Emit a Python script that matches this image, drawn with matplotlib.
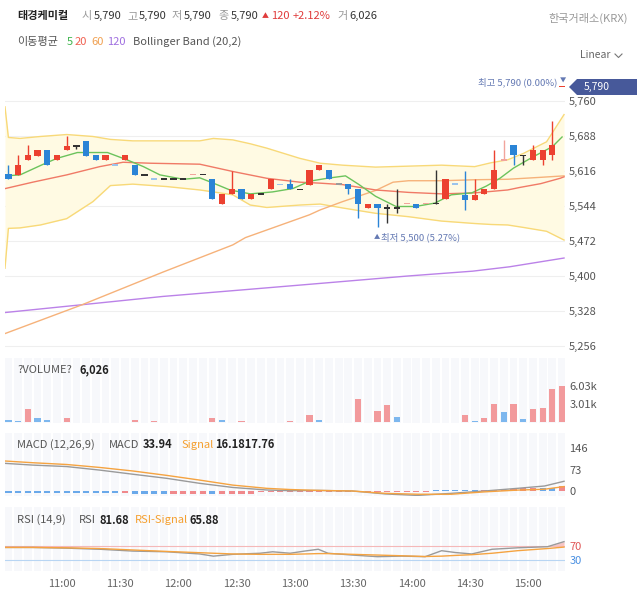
import numpy as np
import matplotlib
matplotlib.use('Agg')
import matplotlib.pyplot as plt
from matplotlib.patches import Polygon

plt.rcParams['font.family'] = ['Noto Sans CJK KR', 'DejaVu Sans']

# ---------------- candles (5 min) ----------------
opens = [5609, 5608, 5638, 5647, 5659, 5638, 5659, 5668, 5678, 5649,
         5638, 5628, 5638, 5628, 5608, 5599, 5599, 5599, 5599, 5609,
         5609, 5599, 5549, 5569, 5578, 5558, 5569, 5578, 5588, 5590,
         5578, 5588, 5619, 5619, 5589, 5589, 5579, 5540, 5549, 5540,
         5540, 5549, 5549, 5549, 5549, 5559, 5589, 5566, 5557, 5569,
         5579, 5639, 5669, 5648, 5639, 5639, 5648, 5790]
highs = [5628, 5649, 5669, 5659, 5659, 5649, 5688, 5668, 5678, 5649,
         5649, 5628, 5649, 5628, 5608, 5599, 5599, 5599, 5599, 5609,
         5609, 5599, 5569, 5616, 5578, 5569, 5569, 5599, 5588, 5599,
         5578, 5618, 5629, 5619, 5589, 5589, 5579, 5549, 5549, 5549,
         5579, 5549, 5549, 5549, 5619, 5599, 5589, 5615, 5599, 5579,
         5660, 5679, 5669, 5648, 5669, 5659, 5719, 5790]
lows = [5599, 5608, 5638, 5647, 5628, 5638, 5659, 5661, 5647, 5638,
        5638, 5628, 5638, 5608, 5608, 5599, 5599, 5599, 5599, 5609,
        5609, 5558, 5549, 5569, 5558, 5558, 5569, 5578, 5588, 5579,
        5578, 5588, 5619, 5599, 5589, 5569, 5519, 5540, 5500, 5509,
        5529, 5549, 5540, 5549, 5549, 5559, 5589, 5536, 5557, 5569,
        5579, 5639, 5629, 5629, 5639, 5629, 5639, 5790]
closes = [5599, 5628, 5649, 5659, 5628, 5649, 5668, 5668, 5647, 5638,
          5649, 5628, 5649, 5608, 5608, 5599, 5599, 5599, 5599, 5609,
          5609, 5558, 5569, 5578, 5558, 5569, 5569, 5599, 5588, 5579,
          5578, 5618, 5629, 5599, 5589, 5579, 5549, 5549, 5540, 5540,
          5540, 5549, 5540, 5549, 5549, 5599, 5589, 5556, 5567, 5579,
          5619, 5639, 5648, 5648, 5659, 5659, 5669, 5790]
tones = ['down', 'up', 'up', 'up', 'down', 'up', 'up', 'flat', 'down', 'down',
         'up', 'down_l', 'up', 'down', 'flat', 'down_l', 'flat', 'flat', 'flat', 'up_l',
         'flat', 'down', 'up', 'up', 'down', 'up', 'flat', 'up', 'down_l', 'down',
         'flat', 'up', 'up', 'down', 'flat_l', 'down', 'down', 'up', 'down', 'flat',
         'flat', 'up_l', 'down', 'up_l', 'flat', 'up', 'down_l', 'down', 'up', 'up',
         'up', 'up_l', 'down', 'flat', 'up', 'up', 'up', 'up']

volumes = [390, 223, 2120, 670, 280, 56, 670, 56, 56, 0,
           56, 56, 0, 280, 0, 170, 0, 56, 56, 0,
           0, 725, 280, 56, 170, 0, 56, 56, 0, 230,
           0, 1170, 335, 0, 0, 56, 3790, 56, 1900, 2850,
           780, 0, 56, 0, 56, 56, 0, 1115, 110, 615,
           3010, 1730, 3010, 500, 2230, 2400, 5470, 6026]
vol_dir = ['d', 'd', 'u', 'd', 'd', 'd', 'u', 'd', 'd', 'd',
           'u', 'd', 'd', 'u', 'd', 'u', 'd', 'u', 'd', 'd',
           'd', 'u', 'd', 'd', 'u', 'd', 'u', 'd', 'd', 'u',
           'd', 'u', 'd', 'd', 'd', 'u', 'u', 'd', 'u', 'u',
           'd', 'd', 'u', 'd', 'u', 'u', 'd', 'u', 'd', 'u',
           'u', 'd', 'u', 'd', 'u', 'u', 'u', 'u']

# ---------------- overlay lines ----------------
ma5_x = [-0.3, 1.2, 3.6, 5.0, 7.1, 10.2, 12.2, 13.9, 15.6, 18.0, 19.7, 21.1, 22.8,
         24.9, 27.2, 29.3, 31.0, 32.8, 34.7, 36.1, 37.8, 39.9, 41.9, 43.9, 45.6,
         47.7, 49.2, 50.6, 52.0, 54.0, 56.0, 57.0]
ma5_y = [5606, 5608, 5630, 5642, 5654, 5654, 5639, 5625, 5608, 5599, 5602, 5591, 5577,
         5569, 5573, 5580, 5595, 5601, 5606, 5588, 5564, 5543, 5543, 5550, 5567,
         5571, 5585, 5601, 5622, 5645, 5666, 5686]

ma20_x = [-0.3, 2.5, 6.0, 9.4, 11.8, 14.6, 19.7, 23.1, 26.6, 30.0, 32.1, 34.4, 37.8,
          41.2, 44.6, 48.0, 51.4, 52.6, 54.8, 56.8, 57.2]
ma20_y = [5580, 5593, 5608, 5625, 5634, 5632, 5630, 5615, 5601, 5593, 5591, 5588, 5577,
          5572, 5569, 5571, 5577, 5582, 5590, 5601, 5604]

ma60_x = [-0.3, 7.6, 15.9, 23.1, 24.4, 31.0, 32.1, 34.4, 37.8, 39.6, 41.2, 44.6, 48.0,
          51.4, 54.8, 57.2]
ma60_y = [5282, 5341, 5408, 5464, 5479, 5526, 5536, 5553, 5576, 5593, 5596, 5596, 5598,
          5599, 5603, 5606]

ma120_x = [-0.3, 7.6, 15.9, 24.4, 32.8, 41.1, 47.8, 51.6, 57.2]
ma120_y = [5325, 5341, 5358, 5372, 5386, 5400, 5410, 5419, 5437]

bb_x = [-0.35, 0, 1.2, 3.3, 6.0, 8.7, 10.5, 12.8, 16.3, 19.7, 21.1, 23.1, 24.9,
        26.6, 30.0, 32.1, 34.4, 37.8, 41.2, 44.6, 48.0, 49.7, 51.4, 53.0, 55.4, 57.2]
bb_upper = [5748, 5685, 5683, 5687, 5691, 5687, 5681, 5678, 5678, 5678, 5683, 5680, 5672,
            5663, 5642, 5632, 5628, 5624, 5626, 5628, 5625, 5633, 5639, 5652, 5676, 5732]
bb_lower = [5416, 5498, 5499, 5505, 5518, 5553, 5586, 5589, 5584, 5577, 5573, 5567, 5546,
            5541, 5546, 5548, 5540, 5529, 5522, 5513, 5508, 5506, 5505, 5500, 5492, 5474]

price_ticks = [5256, 5328, 5400, 5472, 5544, 5616, 5688, 5760]

# ---------------- MACD / RSI ----------------
macd_x = [-0.4, 2.5, 6.0, 9.4, 12.8, 16.3, 19.7, 23.1, 26.6, 29.0, 31.9, 35.4, 38.8,
          42.1, 45.6, 49.0, 52.4, 55.2, 57.2]
macd_line = [94, 88, 83, 71, 57, 43, 26, 12, 3.4, 1, 2, 0, -10, -15, -8, 0, 9, 17, 33]
macd_signal = [102, 96, 90, 80, 68, 53, 37, 20, 9, 5, 2, 0, -8, -11, -11, -3, 3, 6, 15]
macd_hist = [-7, -7, -7, -7, -7, -7, -7, -7, -7, -7, -7, -7, -7, -11, -11, -11, -11, -11, -11, -11,
             -11, -11, -10, -10, -10, -10, -5, -5, -5, -5, -2, -2, -2, -2, -2, -2, -2, -2, -2, -2,
             -2, -2, -2, -2, 2, 2, 2, 2, 2, 3, 3, 5, 6, 9, 10, 11, 11, 18]
hist_dir = ['d'] * 12 + ['u'] + ['d'] * 4 + ['u'] * 4 + ['d'] + ['u'] * 22 + ['d'] * 5 + \
           ['u'] * 6 + ['d'] * 2 + ['u']

rsi_x = [-0.3, 2.5, 6.0, 9.4, 12.8, 16.3, 19.7, 21.1, 23.1, 25.9, 27.2, 29.0, 30.5,
         31.9, 32.9, 35.4, 38.0, 40.5, 42.9, 44.6, 46.0, 47.7, 49.8, 52.4, 55.5, 57.2]
rsi_line = [66, 66, 64, 61, 56, 54, 48, 42, 47, 50, 54, 50, 56,
            61, 50, 45, 40.5, 42, 40.5, 57, 52, 48, 61, 65, 68, 82]
rsi_signal = [66, 66, 65, 63, 59, 55, 51.5, 50, 48, 47, 47, 47, 48,
              49, 49, 47, 45, 43, 41, 42, 44, 46, 50, 57, 63, 67]

time_labels = ['11:00', '11:30', '12:00', '12:30', '13:00', '13:30', '14:00', '14:30', '15:00']

# ---------------- colours ----------------
tone_color = {'up': '#ec4130', 'down': '#2b84d6', 'flat': '#333333',
              'up_l': '#f2a49c', 'down_l': '#9cc4ec', 'flat_l': '#9a9a9a'}
vol_color = {'u': '#f29a9c', 'd': '#7db7ee'}
hist_color = {'u': '#f0898b', 'd': '#6aa9ea'}
stripe = '#f7f8fb'

W, H = 637, 608


def box(x0, y0, x1, y1):
    return [x0 / W, 1 - y1 / H, (x1 - x0) / W, (y1 - y0) / H]


fig = plt.figure(figsize=(W / 100, H / 100), dpi=100)
ax = fig.add_axes(box(5, 76, 565, 356))
axv = fig.add_axes(box(5, 358, 565, 423))
axm = fig.add_axes(box(5, 433, 565, 496))
axr = fig.add_axes(box(5, 507, 565, 571))

x = np.arange(len(closes))
xlim = (-0.35, 57.3)

for a in (ax, axv, axm, axr):
    a.set_xlim(*xlim)
    for s in a.spines.values():
        s.set_visible(False)
    a.yaxis.tick_right()
    a.tick_params(axis='y', length=0, pad=3, labelsize=8, labelcolor='#555555')
    a.tick_params(axis='x', length=0, labelbottom=False)

for a in (axv, axm, axr):
    for i in x:
        a.axvspan(i - 0.4, i + 0.4, color=stripe, lw=0, zorder=0)

# ---- price pane ----
ax.set_ylim(5235.5, 5811.4)
ax.set_yticks(price_ticks)
ax.set_yticklabels([f'{v:,}' for v in price_ticks])
for v in price_ticks:
    ax.axhline(v, color='#efefef', lw=0.8, zorder=0)

ax.fill_between(bb_x, bb_lower, bb_upper, color='#fffae3', lw=0, zorder=1)
ax.plot(bb_x, bb_upper, color='#f8d978', lw=1.0, zorder=2)
ax.plot(bb_x, bb_lower, color='#f8d978', lw=1.0, zorder=2)
ax.plot(ma120_x, ma120_y, color='#bb82e8', lw=1.0, zorder=3)
ax.plot(ma60_x, ma60_y, color='#f6b27a', lw=1.0, zorder=3)
ax.plot(ma20_x, ma20_y, color='#f07a66', lw=1.0, zorder=3)
ax.plot(ma5_x, ma5_y, color='#6cc35c', lw=1.0, zorder=3)

cols = [tone_color[t] for t in tones]
o = np.array(opens)
c = np.array(closes)
bottoms = np.minimum(o, c)
heights = np.abs(c - o)
flat = heights == 0
bottoms = np.where(flat, bottoms - 1.8, bottoms)
heights = np.where(flat, 3.6, heights)
ax.vlines(x, lows, highs, colors=cols, lw=1.0, zorder=4)
ax.bar(x, heights, bottom=bottoms, width=0.64, color=cols, lw=0, zorder=5)

# ---- volume ----
axv.set_ylim(-167, 10720)
axv.bar(x, volumes, width=0.64, color=[vol_color[d] for d in vol_dir], lw=0, zorder=2)
axv.set_yticks([3015, 6030])
axv.set_yticklabels(['3.01k', '6.03k'])

# ---- MACD ----
axm.set_ylim(-17, 197)
axm.bar(x, macd_hist, width=0.64, color=[hist_color[d] for d in hist_dir], lw=0, zorder=2)
axm.plot(macd_x, macd_line, color='#9a9a9a', lw=1.0, zorder=3)
axm.plot(macd_x, macd_signal, color='#f5a340', lw=1.0, zorder=3)
axm.set_yticks([0, 73, 146])
axm.set_yticklabels(['0', '73', '146'])

# ---- RSI ----
axr.set_ylim(1, 177.6)
axr.axhline(70, color='#f5b8b8', lw=0.8, zorder=1)
axr.axhline(30, color='#b8d5f3', lw=0.8, zorder=1)
rl = np.array(rsi_line)
axr.fill_between(rsi_x, rl, 70, where=rl > 70, interpolate=True, color='#f7c4c4', lw=0, zorder=2)
axr.plot(rsi_x, rsi_line, color='#9a9a9a', lw=1.0, zorder=3)
axr.plot(rsi_x, rsi_signal, color='#f5a340', lw=1.0, zorder=3)
axr.set_yticks([30, 70])
axr.set_yticklabels(['30', '70'])
axr.get_yticklabels()[0].set_color('#4a90e2')
axr.get_yticklabels()[1].set_color('#e05555')
axr.set_xticks([5.5 + 6 * k for k in range(len(time_labels))])
axr.set_xticklabels(time_labels)
axr.tick_params(axis='x', labelbottom=True, pad=6, labelsize=8, labelcolor='#666666')

# ---- text overlay (pixel coordinates) ----
ov = fig.add_axes([0, 0, 1, 1], facecolor='none')
ov.set_xlim(0, W)
ov.set_ylim(H, 0)
ov.axis('off')


def put(px, py, s, color='#333333', size=8, weight='normal', ha='left'):
    ov.text(px, py, s, color=color, fontsize=size, fontweight=weight, ha=ha, va='center')


put(17, 16, '태경케미컬', '#222222', 8, 'bold')
for px, s, col in [(82, '시', '#999999'), (94, '5,790', '#333333'),
                   (127, '고', '#999999'), (139, '5,790', '#333333'),
                   (171, '저', '#999999'), (184, '5,790', '#333333'),
                   (218, '종', '#999999'), (231, '5,790', '#333333'),
                   (271, '120', '#e03c3c'), (293, '+2.12%', '#e03c3c'),
                   (337, '거', '#999999'), (349, '6,026', '#333333')]:
    put(px, 16, s, col)
put(262, 16, '▲', '#e03c3c', 5)
put(628, 18, '한국거래소(KRX)', '#999999', 8, ha='right')

for px, s, col in [(17, '이동평균', '#555555'), (67, '5', '#3cb44b'), (75, '20', '#f06050'),
                   (91, '60', '#f0a050'), (107, '120', '#a070e0'),
                   (133, 'Bollinger Band (20,2)', '#555555')]:
    put(px, 42, s, col)

put(580, 55, 'Linear', '#666666', 7.5)
ov.plot([615, 618.5, 622], [54, 57.5, 54], color='#777777', lw=0.8)

put(557, 82, '최고 5,790 (0.00%)', '#6479b3', 6.8, ha='right')
put(560, 81, '▼', '#6479b3', 4.5)
put(374, 237, '▲', '#6479b3', 4.5)
put(381, 237, '최저 5,500 (5.27%)', '#6479b3', 6.8)

ov.add_patch(Polygon([(569, 87), (577, 79), (637, 79), (637, 95), (577, 95)],
                     closed=True, color='#47599a', lw=0))
put(584, 87, '5,790', '#ffffff', 7.5)

put(17, 370, '?VOLUME?', '#555555', 8)
put(79, 370, '6,026', '#222222', 8, 'bold')

for px, s, col, wt in [(17, 'MACD (12,26,9)', '#555555', 'normal'),
                       (109, 'MACD', '#555555', 'normal'), (143, '33.94', '#222222', 'bold'),
                       (181, 'Signal', '#f5a030', 'normal'), (215, '16.1817.76', '#222222', 'bold')]:
    put(px, 445, s, col, 8, wt)

for px, s, col, wt in [(17, 'RSI (14,9)', '#555555', 'normal'),
                       (79, 'RSI', '#555555', 'normal'), (99, '81.68', '#222222', 'bold'),
                       (135, 'RSI-Signal', '#f5a030', 'normal'), (189, '65.88', '#222222', 'bold')]:
    put(px, 520, s, col, 8, wt)

fig.savefig('out.png', dpi=100)
